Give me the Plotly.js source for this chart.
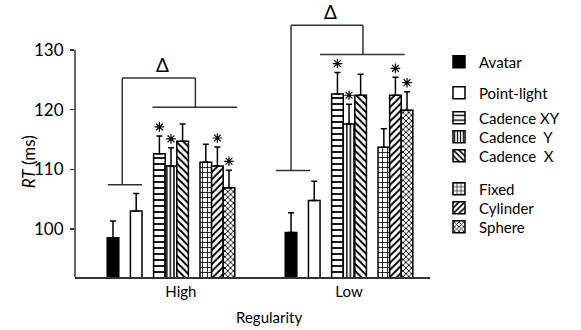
<!DOCTYPE html>
<html>
<head>
<meta charset="utf-8">
<script src="https://cdn.plot.ly/plotly-3.0.1.min.js"></script>
<style>html,body{margin:0;padding:0;background:#fff;}#chart{width:581px;height:330px;}</style>
</head>
<body>
<div id="chart"></div>
<script>
// ---- data ----
const groups = ['High', 'Low'];
const seriesNames = ['Avatar', 'Point-light', 'Cadence XY', 'Cadence\u00a0\u00a0Y', 'Cadence\u00a0\u00a0X', 'Fixed', 'Cylinder', 'Sphere'];
const highMeans = [98.55, 103.05, 112.6, 110.55, 114.7, 111.2, 110.55, 106.95];
const highErrs  = [2.8, 2.9, 3.0, 3.05, 2.9, 3.0, 3.2, 2.9];
const lowMeans  = [99.45, 104.8, 122.6, 117.6, 122.4, 113.7, 122.4, 119.9];
const lowErrs   = [3.3, 3.2, 3.6, 3.3, 3.5, 3.1, 3.0, 3.1];
const significant = [false, false, true, true, false, false, true, true];
const yTicks = [100, 110, 120, 130];
// comparison brackets (levels in RT units, per group)
const bracketLeftLevel  = [107.45, 109.8];
const bracketTopLevel   = [125.3, 134.1];
const bracketRightLevel = [120.4, 129.2];

// ---- layout configuration ----
const slots = [0, 2, 4, 5, 6, 8, 9, 10];
const groupStep = 15.35;
const labelOffset = [5.85, 5.0];
const bracketGeom = [
  {l0: -0.45, l1: 2.5, stemL: 0.8, stemR: 7.1, r0: 3.4, r1: 10.7},
  {l0: -1.3, l1: 1.65, stemL: 0.0, stemR: 6.2, r0: 2.5, r1: 9.8}
];
const patterns = [
  null, null,
  {shape: '-', size: 6, solidity: 0.3},
  {shape: '|', size: 3.6, solidity: 0.4},
  {shape: '\\', size: 5, solidity: 0.4},
  {shape: '+', size: 5, solidity: 0.3},
  {shape: '/', size: 5, solidity: 0.4},
  {shape: 'x', size: 4, solidity: 0.4}
];
const legendCenters = [62, 93, 118, 137, 156, 189, 208, 227]; // px from top
const FONT = 'Lato, "Open Sans", sans-serif';
const plotTop = 5, plotBottom = 277;
const yRange = [92, 137.5];
const pxPerUnit = (plotBottom - plotTop) / (yRange[1] - yRange[0]);
const starGapPx = 9;

const means = [highMeans, lowMeans];
const errs = [highErrs, lowErrs];

const traces = seriesNames.map((name, i) => {
  const marker = {line: {color: '#000', width: 1.5}};
  if (i === 0) marker.color = '#000';
  else if (i === 1) marker.color = '#fff';
  else {
    marker.color = '#fff';
    marker.pattern = Object.assign({fgcolor: '#000', bgcolor: '#fff', fillmode: 'replace'}, patterns[i]);
  }
  return {
    type: 'bar',
    name: name,
    x: groups.map((g, gi) => gi * groupStep + slots[i]),
    y: groups.map((g, gi) => means[gi][i]),
    width: 1,
    marker: marker,
    error_y: {
      type: 'data', symmetric: false,
      array: groups.map((g, gi) => errs[gi][i]),
      arrayminus: groups.map(() => 0),
      color: '#000', thickness: 1.5, width: 3
    },
    legend: i === 0 ? 'legend' : 'legend' + (i + 1),
    showlegend: true,
    hoverinfo: 'skip'
  };
});

// significance stars
const starX = [], starY = [];
groups.forEach((g, gi) => {
  significant.forEach((s, i) => {
    if (!s) return;
    starX.push(gi * groupStep + slots[i]);
    starY.push(means[gi][i] + errs[gi][i] + starGapPx / pxPerUnit);
  });
});
traces.push({
  type: 'scatter', mode: 'markers', x: starX, y: starY, showlegend: false, hoverinfo: 'skip',
  marker: {symbol: 'asterisk-open', size: 8, color: '#000', line: {color: '#000', width: 1.2}},
  cliponaxis: false
});

const shapes = [];
const annotations = [];
groups.forEach((g, gi) => {
  const o = gi * groupStep;
  const b = bracketGeom[gi];
  const line = {color: '#333', width: 1.5};
  const yl = bracketLeftLevel[gi], yt = bracketTopLevel[gi], yr = bracketRightLevel[gi];
  shapes.push({type: 'line', xref: 'x', yref: 'y', x0: o + b.l0, x1: o + b.l1, y0: yl, y1: yl, line: line});
  shapes.push({type: 'line', xref: 'x', yref: 'y', x0: o + b.stemL, x1: o + b.stemL, y0: yl, y1: yt, line: line});
  shapes.push({type: 'line', xref: 'x', yref: 'y', x0: o + b.stemL, x1: o + b.stemR, y0: yt, y1: yt, line: line});
  shapes.push({type: 'line', xref: 'x', yref: 'y', x0: o + b.stemR, x1: o + b.stemR, y0: yt, y1: yr, line: line});
  shapes.push({type: 'line', xref: 'x', yref: 'y', x0: o + b.r0, x1: o + b.r1, y0: yr, y1: yr, line: line});
  annotations.push({
    xref: 'x', yref: 'y', x: o + (b.stemL + b.stemR) / 2 + 0.3, y: yt, yanchor: 'bottom', yshift: 0,
    text: '\u0394', showarrow: false, font: {family: FONT, size: 19, color: '#000'}
  });
});

// y axis line only up to the top tick
shapes.push({type: 'line', xref: 'paper', yref: 'y', x0: 0, x1: 0, y0: yRange[0], y1: yTicks[yTicks.length - 1], line: {color: '#333', width: 1.5}});

annotations.push({
  xref: 'paper', yref: 'y', x: (28 - 75) / 355, y: 111.2, textangle: -90, xanchor: 'center', yanchor: 'middle',
  text: '<i>RT</i> (ms)', showarrow: false, font: {family: FONT, size: 17, color: '#000'}
});
annotations.push({
  xref: 'paper', yref: 'paper', x: 0.546, y: (plotBottom - 317) / (plotBottom - plotTop), xanchor: 'center', yanchor: 'middle',
  text: 'Regularity', showarrow: false, font: {family: FONT, size: 15, color: '#000'}
});

const layout = {
  width: 581, height: 330,
  margin: {l: 75, r: 151, t: plotTop, b: 330 - plotBottom},
  paper_bgcolor: '#fff', plot_bgcolor: '#fff',
  barmode: 'overlay',
  showlegend: true,
  xaxis: {
    range: [-3.276, 27.33], showgrid: false, zeroline: false,
    showline: true, linecolor: '#333', linewidth: 1.5,
    tickvals: groups.map((g, gi) => gi * groupStep + labelOffset[gi]),
    ticktext: groups, ticks: '', ticklabelstandoff: 0,
    tickfont: {family: FONT, size: 15, color: '#000'}
  },
  yaxis: {
    range: yRange, showgrid: false, zeroline: false, showline: false,
    tickvals: yTicks, ticks: 'outside', ticklen: 4, tickwidth: 1.5, tickcolor: '#333',
    ticklabelstandoff: 3,
    tickfont: {family: FONT, size: 17, color: '#000'}
  },
  shapes: shapes,
  annotations: annotations
};

seriesNames.forEach((n, i) => {
  const key = i === 0 ? 'legend' : 'legend' + (i + 1);
  layout[key] = {
    x: (439 - 75) / 355, xanchor: 'left',
    y: (plotBottom - legendCenters[i]) / (plotBottom - plotTop), yanchor: 'middle',
    bgcolor: 'rgba(0,0,0,0)', borderwidth: 0,
    font: {family: FONT, size: 15, color: '#000'}
  };
});

Plotly.newPlot('chart', traces, layout, {displayModeBar: false, staticPlot: true});
</script>
</body>
</html>
